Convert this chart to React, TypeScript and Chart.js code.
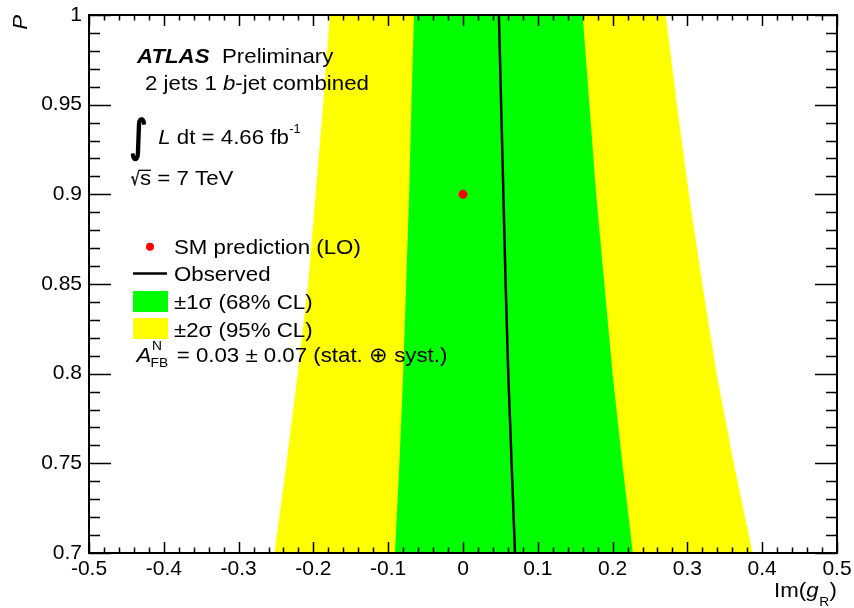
import React, { useEffect, useRef } from "react";
import { Chart, registerables } from "chart.js";

Chart.register(...registerables);

// ---- data ----
const pValues = [0.7, 0.75, 0.8, 0.85, 0.9, 0.95, 1.0];
const yellowLeft = [-0.252, -0.236, -0.221, -0.207, -0.197, -0.187, -0.178];
const greenLeft = [-0.091, -0.085, -0.08, -0.076, -0.072, -0.069, -0.0655];
const greenRight = [0.227, 0.213, 0.2, 0.189, 0.178, 0.169, 0.16];
const yellowRight = [0.387, 0.362, 0.339, 0.32, 0.302, 0.286, 0.271];
const observed = [0.0695, 0.065, 0.0605, 0.057, 0.054, 0.051, 0.048];
const smX = [0];
const smP = [0.9];

const xTickValues = [-0.5, -0.4, -0.3, -0.2, -0.1, 0, 0.1, 0.2, 0.3, 0.4, 0.5];
const xTickLabels = ["-0.5", "-0.4", "-0.3", "-0.2", "-0.1", "0", "0.1", "0.2", "0.3", "0.4", "0.5"];
const yTickValues = [0.7, 0.75, 0.8, 0.85, 0.9, 0.95, 1.0];
const yTickLabels = ["0.7", "0.75", "0.8", "0.85", "0.9", "0.95", "1"];

const FONT = "'Liberation Sans', Arial, Helvetica, sans-serif";
const SX = 1.06;

function txt(ctx: CanvasRenderingContext2D, s: string, x: number, y: number, size: number, style = "", sx = SX) {
  ctx.font = `${style} ${size}px ${FONT}`;
  const w = ctx.measureText(s).width * sx;
  ctx.save();
  ctx.translate(x, y);
  ctx.scale(sx, 1);
  ctx.fillText(s, 0, 0);
  ctx.restore();
  return x + w;
}

function fitGlyph(
  ctx: CanvasRenderingContext2D,
  g: string,
  font: string,
  x: number,
  y: number,
  w: number,
  h: number,
  strokePx = 0
) {
  ctx.font = font;
  const m = ctx.measureText(g);
  const gh = m.actualBoundingBoxAscent + m.actualBoundingBoxDescent;
  const gw = m.actualBoundingBoxLeft + m.actualBoundingBoxRight;
  const sx = w / gw;
  const sy = h / gh;
  ctx.save();
  ctx.translate(x, y);
  ctx.scale(sx, sy);
  ctx.fillText(g, m.actualBoundingBoxLeft, m.actualBoundingBoxAscent);
  if (strokePx > 0) {
    ctx.lineWidth = strokePx / Math.min(sx, sy);
    ctx.lineJoin = "round";
    ctx.strokeText(g, m.actualBoundingBoxLeft, m.actualBoundingBoxAscent);
  }
  ctx.restore();
}

const rootStylePlugin = {
  id: "rootStyle",
  afterDraw(chart: any) {
    const ctx: CanvasRenderingContext2D = chart.ctx;
    const { left, right, top, bottom } = chart.chartArea;
    const xs = chart.scales.x;
    const ys = chart.scales.y;
    ctx.save();
    ctx.strokeStyle = "#000";
    ctx.fillStyle = "#000";
    ctx.textAlign = "left";
    ctx.textBaseline = "alphabetic";

    // ticks
    ctx.lineWidth = 1.5;
    ctx.beginPath();
    for (let i = 0; i <= 50; i++) {
      const v = -0.5 + i * 0.02;
      const px = Math.round(xs.getPixelForValue(v)) + 0.5;
      const len = i % 5 === 0 ? 11 : 5.5;
      ctx.moveTo(px, bottom);
      ctx.lineTo(px, bottom - len);
      ctx.moveTo(px, top);
      ctx.lineTo(px, top + len);
    }
    for (let i = 0; i <= 30; i++) {
      const v = 0.7 + i * 0.01;
      const py = Math.round(ys.getPixelForValue(v)) + 0.5;
      const len = i % 5 === 0 ? 22 : 11;
      ctx.moveTo(left, py);
      ctx.lineTo(left + len, py);
      ctx.moveTo(right, py);
      ctx.lineTo(right - len, py);
    }
    ctx.stroke();

    // frame
    ctx.lineWidth = 2;
    ctx.strokeRect(left, top, right - left, bottom - top);

    // axis titles
    ctx.save();
    ctx.translate(27, top);
    ctx.rotate(-Math.PI / 2);
    ctx.textAlign = "right";
    ctx.font = `italic 21px ${FONT}`;
    ctx.scale(SX, 1);
    ctx.fillText("P", 0, 0);
    ctx.restore();

    // Im(g_R) right-aligned at the axis end
    {
      ctx.font = `21px ${FONT}`;
      const w1 = ctx.measureText("Im(").width * SX;
      ctx.font = `italic 21px ${FONT}`;
      const w2 = ctx.measureText("g").width * SX;
      ctx.font = `13px ${FONT}`;
      const w3 = ctx.measureText("R").width * SX;
      ctx.font = `21px ${FONT}`;
      const w4 = ctx.measureText(")").width * SX;
      let x = right - (w1 + w2 + w3 + w4 + 1);
      x = txt(ctx, "Im(", x, 597, 21);
      x = txt(ctx, "g", x, 597, 21, "italic");
      x = txt(ctx, "R", x + 0.5, 605.5, 13);
      txt(ctx, ")", x + 0.5, 597, 21);
    }

    // ATLAS label
    let x = txt(ctx, "ATLAS", 137, 62.7, 21, "italic bold");
    txt(ctx, "Preliminary", 222, 62.7, 21);
    x = txt(ctx, "2 jets 1 ", 145, 90, 21);
    x = txt(ctx, "b", x, 90, 21, "italic");
    txt(ctx, "-jet combined", x, 90, 21);

    // integral
    ctx.strokeStyle = "#000";
    fitGlyph(ctx, "\u222B", `60px 'DejaVu Sans'`, 131.5, 117, 14, 43, 1.6);
    x = txt(ctx, "L", 158.3, 144, 21, "italic");
    x = txt(ctx, " dt = 4.66 fb", x, 144, 21);
    txt(ctx, "-1", x + 0.5, 133, 12);

    // sqrt(s)
    fitGlyph(ctx, "\u221A", `40px 'DejaVu Sans'`, 131, 169.5, 9, 16, 0.4);
    ctx.lineWidth = 1.3;
    ctx.beginPath();
    ctx.moveTo(139.5, 170.3);
    ctx.lineTo(151, 170.3);
    ctx.stroke();
    x = txt(ctx, "s", 140, 185, 21);
    txt(ctx, " = 7 TeV", x, 185, 21);

    // legend
    ctx.fillStyle = "#ff0000";
    ctx.beginPath();
    ctx.arc(150, 246.7, 4, 0, Math.PI * 2);
    ctx.fill();
    ctx.fillStyle = "#000";
    txt(ctx, "SM prediction (LO)", 174, 254, 21);

    ctx.lineWidth = 2.5;
    ctx.beginPath();
    ctx.moveTo(133, 273.5);
    ctx.lineTo(167, 273.5);
    ctx.stroke();
    txt(ctx, "Observed", 174, 281, 21);

    ctx.fillStyle = "#00ff00";
    ctx.fillRect(133, 291, 35, 21);
    ctx.fillStyle = "#000";
    txt(ctx, "\u00B11\u03C3 (68% CL)", 174, 309, 21);

    ctx.fillStyle = "#ffff00";
    ctx.fillRect(133, 318, 35, 21);
    ctx.fillStyle = "#000";
    txt(ctx, "\u00B12\u03C3 (95% CL)", 174, 336.5, 21);

    txt(ctx, "A", 136.5, 361.7, 21, "italic");
    txt(ctx, "N", 152, 350, 13);
    txt(ctx, "FB", 150.5, 367.3, 13);
    txt(ctx, "= 0.03 \u00B1 0.07 (stat. \u2295 syst.)", 176.7, 361.7, 21);

    ctx.restore();
  },
};

export default function App() {
  const canvasRef = useRef<HTMLCanvasElement | null>(null);

  useEffect(() => {
    const canvas = canvasRef.current;
    if (!canvas) return;
    const pts = (xsArr: number[]) => xsArr.map((v, i) => ({ x: v, y: pValues[i] }));
    const chart = new Chart(canvas, {
      type: "line",
      data: {
        datasets: [
          {
            label: "\u00B11\u03C3 (68% CL)",
            data: pts(greenLeft),
            borderWidth: 0,
            pointRadius: 0,
            backgroundColor: "#00ff00",
            borderColor: "rgba(0,0,0,0)",
            fill: "+1",
          },
          {
            label: "green right",
            data: pts(greenRight),
            borderWidth: 0,
            pointRadius: 0,
            borderColor: "rgba(0,0,0,0)",
            fill: false,
          },
          {
            label: "\u00B12\u03C3 (95% CL)",
            data: pts(yellowLeft),
            borderWidth: 0,
            pointRadius: 0,
            backgroundColor: "#ffff00",
            borderColor: "rgba(0,0,0,0)",
            fill: "+1",
          },
          {
            label: "yellow right",
            data: pts(yellowRight),
            borderWidth: 0,
            pointRadius: 0,
            borderColor: "rgba(0,0,0,0)",
            fill: false,
          },
          {
            label: "Observed",
            data: pts(observed),
            borderWidth: 2.5,
            borderColor: "#000000",
            pointRadius: 0,
            fill: false,
          },
          {
            label: "SM prediction (LO)",
            data: smX.map((v, i) => ({ x: v, y: smP[i] })),
            showLine: false,
            pointRadius: 4.5,
            pointBackgroundColor: "#ff0000",
            pointBorderWidth: 0,
            borderColor: "#ff0000",
            fill: false,
          },
        ],
      },
      options: {
        animation: false,
        responsive: false,
        devicePixelRatio: 1,
        indexAxis: "y",
        events: [],
        layout: { padding: { left: 0, right: 17, top: 15, bottom: 0 } },
        plugins: {
          legend: { display: false },
          tooltip: { enabled: false },
          filler: { drawTime: "beforeDatasetsDraw", propagate: false },
        },
        scales: {
          x: {
            type: "linear",
            position: "bottom",
            min: -0.5,
            max: 0.5,
            grid: { display: false, drawTicks: false },
            border: { display: false },
            afterBuildTicks: (scale: any) => {
              scale.ticks = xTickValues.map((v) => ({ value: v }));
            },
            afterFit: (scale: any) => {
              scale.height = 55;
              scale.paddingLeft = 0;
              scale.paddingRight = 0;
            },
            ticks: {
              autoSkip: false,
              maxRotation: 0,
              padding: 4,
              color: "#000",
              font: { family: FONT, size: 21 },
              callback: (_v: any, i: number) => xTickLabels[i],
            },
          },
          y: {
            type: "linear",
            position: "left",
            min: 0.7,
            max: 1.0,
            grid: { display: false, drawTicks: false },
            border: { display: false },
            afterBuildTicks: (scale: any) => {
              scale.ticks = yTickValues.map((v) => ({ value: v }));
            },
            afterFit: (scale: any) => {
              scale.width = 89;
              scale.paddingTop = 0;
              scale.paddingBottom = 0;
            },
            ticks: {
              autoSkip: false,
              padding: 7,
              color: "#000",
              font: { family: FONT, size: 21 },
              callback: (_v: any, i: number) => yTickLabels[i],
            },
          },
        },
      } as any,
      plugins: [rootStylePlugin],
    });
    return () => chart.destroy();
  }, []);

  return (
    <div style={{ position: "fixed", left: 0, top: 0, width: 854, height: 608, background: "#fff" }}>
      <canvas ref={canvasRef} width={854} height={608} style={{ display: "block" }} />
    </div>
  );
}
